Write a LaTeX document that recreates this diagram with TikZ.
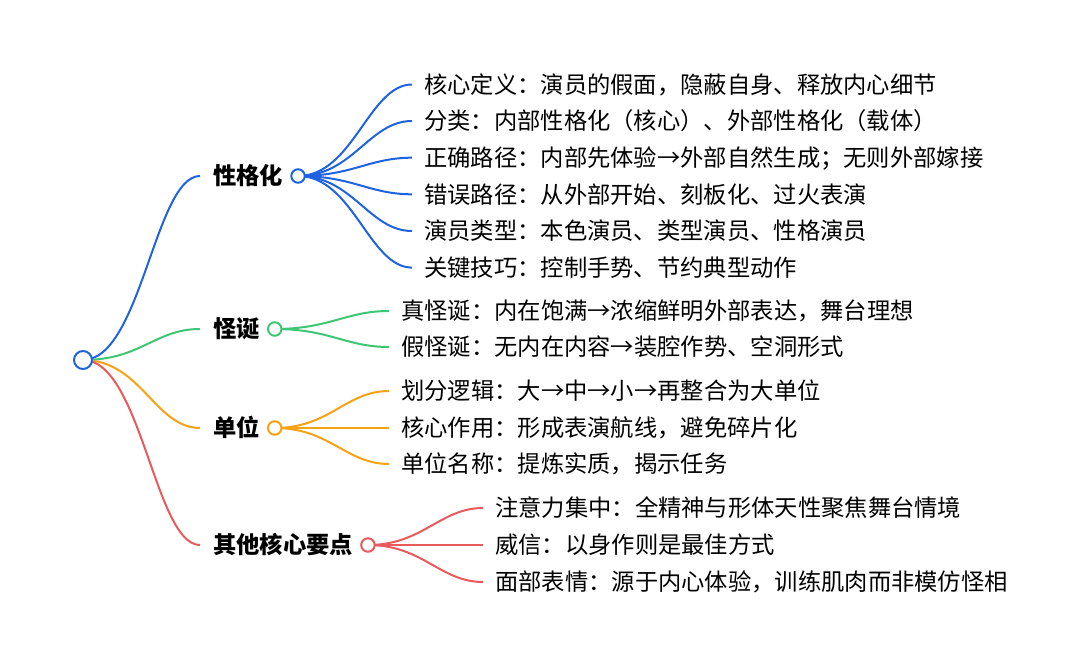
\documentclass[tikz,border=0pt]{standalone}
\usepackage{fontspec}
\setmainfont{Noto Sans CJK SC}
\usetikzlibrary{positioning,backgrounds}
\definecolor{mmblue}{HTML}{1F63E0}
\definecolor{mmgreen}{HTML}{3DC674}
\definecolor{mmorange}{HTML}{F5A214}
\definecolor{mmred}{HTML}{E95A5D}

\begin{document}
\begin{tikzpicture}[x=1pt,y=-1pt]
        \tikzstyle{hub}=[circle,draw,fill=white,line width=2pt,minimum size=13.5pt,inner sep=0pt]
        \tikzstyle{topic}=[anchor=west,inner sep=0pt,text height=20.5pt,text depth=2.8pt,font=\fontsize{23.3}{28}\selectfont\bfseries]
        \tikzstyle{leaf}=[anchor=west,inner sep=0pt,text height=20.5pt,text depth=2.8pt,font=\fontsize{23.3}{28}\selectfont]
        \tikzstyle{link}=[line width=2pt,shorten >=12pt]

        \useasboundingbox (0,0) rectangle (1080,666);

        % Root
        \node[hub,draw=mmblue,minimum size=18pt] (root) at (83,360) {};

        % Topics
        \node[topic] (T1) at (213,176) {性格化};
        \node[topic] (T2) at (213,329) {怪诞};
        \node[topic] (T3) at (213,428) {单位};
        \node[topic] (T4) at (213,545) {其他核心要点};
        \node[hub,draw=mmblue,right=7pt of T1] (H1) {};
        \node[hub,draw=mmgreen,right=7pt of T2] (H2) {};
        \node[hub,draw=mmorange,right=7pt of T3] (H3) {};
        \node[hub,draw=mmred,right=7pt of T4] (H4) {};

        % Leaves of 性格化
        \foreach \name/\y/\txt in {1/84.5/{核心定义：演员的假面，隐蔽自身、释放内心细节},
                2/121/{分类：内部性格化（核心）、外部性格化（载体）},
                3/157.7/{正确路径：内部先体验→外部自然生成；无则外部嫁接},
                4/194.3/{错误路径：从外部开始、刻板化、过火表演},
                5/231/{演员类型：本色演员、类型演员、性格演员},
                6/267.6/{关键技巧：控制手势、节约典型动作}}
            \node[leaf] (A-\name) at (424,\y) {\txt};

        % Leaves of 怪诞
        \foreach \name/\y/\txt in {1/311/{真怪诞：内在饱满→浓缩鲜明外部表达，舞台理想},
                2/347/{假怪诞：无内在内容→装腔作势、空洞形式}}
            \node[leaf] (B-\name) at (401,\y) {\txt};

        % Leaves of 单位
        \foreach \name/\y/\txt in {1/391/{划分逻辑：大→中→小→再整合为大单位},
                2/428/{核心作用：形成表演航线，避免碎片化},
                3/464/{单位名称：提炼实质，揭示任务}}
            \node[leaf] (C-\name) at (401,\y) {\txt};

        % Leaves of 其他核心要点
        \foreach \name/\y/\txt in {1/508/{注意力集中：全精神与形体天性聚焦舞台情境},
                2/545/{威信：以身作则是最佳方式},
                3/582/{面部表情：源于内心体验，训练肌肉而非模仿怪相}}
            \node[leaf] (D-\name) at (495,\y) {\txt};

        % Connect nodes
        \begin{pgfonlayer}{background}
        \foreach \t/\c in {1/mmblue,2/mmgreen,3/mmorange,4/mmred}
            \draw[link,draw=\c,shorten >=13pt] (root.center) .. controls +(58,0) and +(-58,0) .. (T\t.west);

        \foreach \dest in {1,...,6}
            \draw[link,draw=mmblue] (H1.center) .. controls +(55,0) and +(-55,0) .. (A-\dest.west);

        \foreach \dest in {1,2}
            \draw[link,draw=mmgreen] (H2.center) .. controls +(55,0) and +(-55,0) .. (B-\dest.west);

        \foreach \dest in {1,2,3}
            \draw[link,draw=mmorange] (H3.center) .. controls +(55,0) and +(-55,0) .. (C-\dest.west);

        \foreach \dest in {1,2,3}
            \draw[link,draw=mmred] (H4.center) .. controls +(55,0) and +(-55,0) .. (D-\dest.west);
        \end{pgfonlayer}

    \end{tikzpicture}
\end{document}
